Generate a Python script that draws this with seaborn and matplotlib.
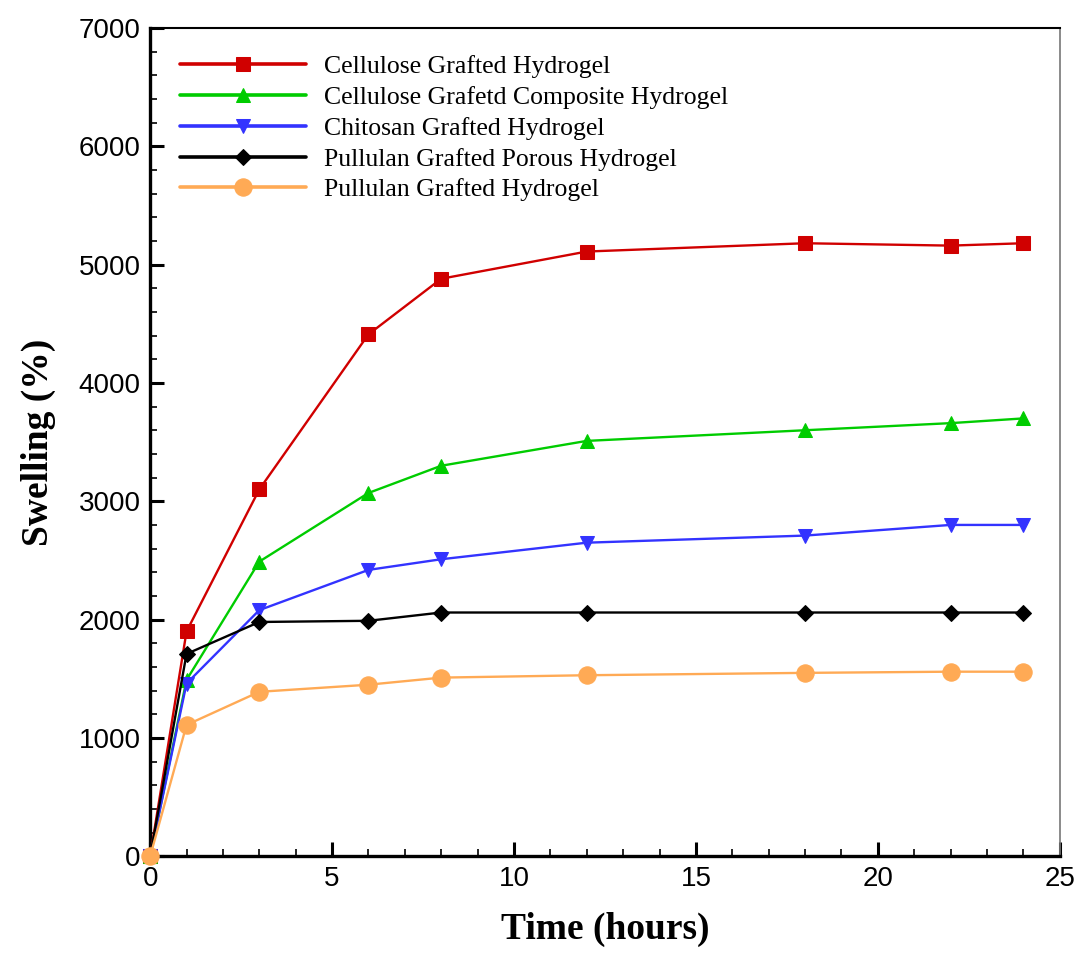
import matplotlib
matplotlib.use("Agg")
import matplotlib.pyplot as plt
from matplotlib.ticker import MultipleLocator
import numpy as np
import pandas as pd
import seaborn as sns

# Sampling times (hours)
time_h = [0, 1, 3, 6, 8, 12, 18, 22, 24]

# Swelling ratio (%) for each hydrogel
cellulose_grafted = [0, 1900, 3100, 4410, 4880, 5110, 5180, 5160, 5180]
cellulose_composite = [0, 1490, 2490, 3070, 3300, 3510, 3600, 3660, 3700]
chitosan_grafted = [0, 1460, 2080, 2420, 2510, 2650, 2710, 2800, 2800]
pullulan_porous = [0, 1710, 1980, 1990, 2060, 2060, 2060, 2060, 2060]
pullulan_grafted = [0, 1110, 1390, 1450, 1510, 1530, 1550, 1560, 1560]

series_names = [
    "Cellulose Grafted Hydrogel",
    "Cellulose Grafetd Composite Hydrogel",
    "Chitosan Grafted Hydrogel",
    "Pullulan Grafted Porous Hydrogel",
    "Pullulan Grafted Hydrogel",
]
series_values = [cellulose_grafted, cellulose_composite, chitosan_grafted,
                 pullulan_porous, pullulan_grafted]
series_colors = ["#D00000", "#00CC00", "#3333FF", "#000000", "#FFAA55"]
series_markers = ["s", "^", "v", "D", "o"]
series_msize = [10, 9.5, 10.5, 8.5, 12.5]

df = pd.concat(
    [pd.DataFrame({"Time": time_h, "Swelling": vals, "Sample": name})
     for name, vals in zip(series_names, series_values)],
    ignore_index=True,
)

sns.set_theme(style="white")
plt.rcParams["font.family"] = ["Liberation Sans", "DejaVu Sans"]
plt.rcParams["text.color"] = "black"
plt.rcParams["axes.labelcolor"] = "black"
plt.rcParams["xtick.color"] = "black"
plt.rcParams["ytick.color"] = "black"

fig = plt.figure(figsize=(10.88, 9.6), dpi=100)
ax = fig.add_axes([0.138, 0.108, 0.836, 0.863])

for name, color, marker, ms in zip(series_names, series_colors,
                                   series_markers, series_msize):
    sub = df[df["Sample"] == name]
    sns.lineplot(data=sub, x="Time", y="Swelling", ax=ax, color=color,
                 marker=marker, markersize=ms, markeredgecolor=color,
                 linewidth=1.7, label=name, clip_on=False, zorder=3)

ax.set_xlim(0, 25)
ax.set_ylim(0, 7000)
ax.xaxis.set_major_locator(MultipleLocator(5))
ax.xaxis.set_minor_locator(MultipleLocator(1))
ax.yaxis.set_major_locator(MultipleLocator(1000))
ax.yaxis.set_minor_locator(MultipleLocator(200))

ax.tick_params(axis="both", which="both", direction="in", top=False,
               right=False, bottom=True, left=True, colors="black")
ax.tick_params(axis="both", which="major", length=10, width=2.2,
               labelsize=20, pad=7)
ax.tick_params(axis="both", which="minor", length=5, width=1.2)

for side in ["left", "bottom"]:
    ax.spines[side].set_linewidth(2.4)
    ax.spines[side].set_color("black")
ax.spines["top"].set_linewidth(1.5)
ax.spines["top"].set_color("black")
ax.spines["right"].set_linewidth(1.2)
ax.spines["right"].set_color("#777777")

label_font = dict(family=["Liberation Serif", "DejaVu Serif"],
                  weight="bold", size=27, color="black")
ax.set_xlabel("Time (hours)", labelpad=14, **label_font)
ax.set_ylabel("Swelling (%)", labelpad=16, **label_font)

leg = ax.legend(loc="upper left", frameon=False,
                prop=dict(family=["Liberation Serif", "DejaVu Serif"],
                          size=18.5),
                handlelength=4.9, handletextpad=0.7, labelspacing=0.31,
                borderaxespad=0.0, bbox_to_anchor=(0.022, 0.98))
for line in leg.get_lines():
    line.set_linewidth(2.6)

fig.savefig("out.png", dpi=100, facecolor="white")
